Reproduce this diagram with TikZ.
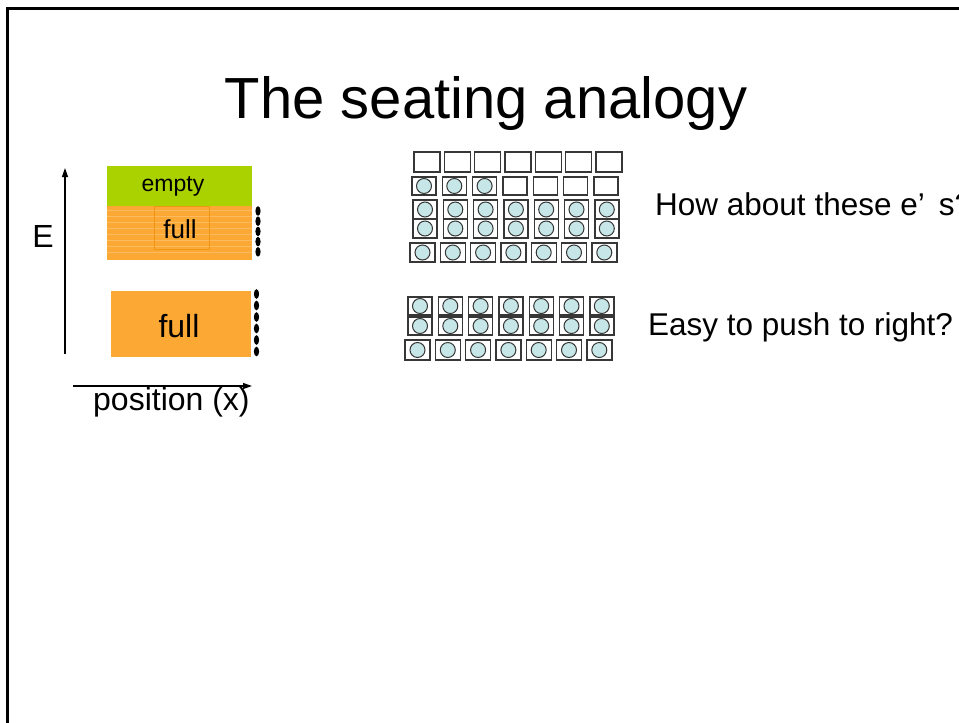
\documentclass[tikz,border=0pt]{standalone}
\usepackage{fontspec}
\setmainfont{Liberation Sans}
\usetikzlibrary{arrows.meta}
\definecolor{grn}{RGB}{170,210,0}
\definecolor{org}{RGB}{252,168,52}
\definecolor{orgline}{RGB}{240,150,20}
\definecolor{seatfill}{RGB}{198,230,232}
\definecolor{seatline}{RGB}{55,55,55}
\newcommand\seatrow[5]{% #1 x0, #2 top y, #3 height, #4 seats with a ball, #5 width
  \foreach \i in {0,...,6}{
    \pgfmathsetmacro\xa{#1+\i*30.3}
    \draw[seatbox] (\xa,#2) rectangle ++(#5,#3);
    \ifnum\i<#4\relax \draw[ball] (\xa+#5/2,#2+#3/2) circle[radius=7.5pt];\fi
  }}
\begin{document}
\begin{tikzpicture}[x=1pt,y=-1pt,
  seatbox/.style={draw=seatline,line width=1.4pt,fill=white},
  ball/.style={draw=seatline,line width=1pt,fill=seatfill},
  lbl/.style={inner sep=0pt,anchor=base,text=black},
  axis/.style={line width=1.3pt,-{Triangle[length=9pt,width=6pt]}}]
\useasboundingbox (0,0) rectangle (959,723);
\clip (0,0) rectangle (959,723);
% frame
\draw[line width=2.5pt] (7.5,723) -- (7.5,8.5) -- (959,8.5);
% title
\node[lbl] (title) at (486,118) {\fontsize{58}{70}\selectfont The seating analogy};
% axes
\coordinate (ybot) at (65,354);
\coordinate (ytop) at (65,168);
\coordinate (xl) at (73,386);
\coordinate (xr) at (252,386);
\draw[axis] (ybot) -- (ytop);
\draw[axis] (xl) -- (xr);
\node[lbl] (E) at (43,247) {\fontsize{32}{38}\selectfont E};
\node[lbl,anchor=base west] (pos) at (93,410) {\fontsize{32}{38}\selectfont position (x)};
% upper band
\fill[grn] (107,166) rectangle (252,206);
\fill[org] (107,206) rectangle (252,259.5);
\foreach \yy in {210,216,...,256}{\draw[white!22!org,line width=0.4pt] (107,\yy) -- (252,\yy);}
\draw[orgline,line width=0.6pt] (154,206) rectangle (209,249);
\node[lbl] (empty) at (173,191) {\fontsize{23}{28}\selectfont empty};
\node[lbl] (full1) at (180,238) {\fontsize{26}{31}\selectfont full};
\foreach \yy in {211,221.2,231.4,241.6,251.8}{\fill (258,\yy) ellipse[x radius=2.6pt,y radius=4.8pt];}
% lower band
\fill[org] (111,291) rectangle (251,357);
\node[lbl] (full2) at (179,337) {\fontsize{32}{38}\selectfont full};
\foreach \yy in {294,305.5,317,328.5,340,351.5}{\fill (256.5,\yy) ellipse[x radius=2.6pt,y radius=4.8pt];}
% seat grid 1
\seatrow{414}{152}{20}{0}{26}
\seatrow{412}{177}{18}{3}{24}
\seatrow{413}{200}{19}{7}{24}
\seatrow{413}{219}{19}{7}{24}
\seatrow{410}{243}{19}{7}{25}
% seat grid 2
\seatrow{408}{297}{18}{7}{24}
\seatrow{408}{317}{18}{7}{24}
\seatrow{405}{340}{20}{7}{25}
% texts
\node[lbl,anchor=base west] (q1) at (655,215) {\fontsize{31.5}{38}\selectfont How about these e’\hspace{0.45em}s?};
\node[lbl,anchor=base west] (q2) at (648,335) {\fontsize{31.5}{38}\selectfont Easy to push to right?};
\end{tikzpicture}
\end{document}
